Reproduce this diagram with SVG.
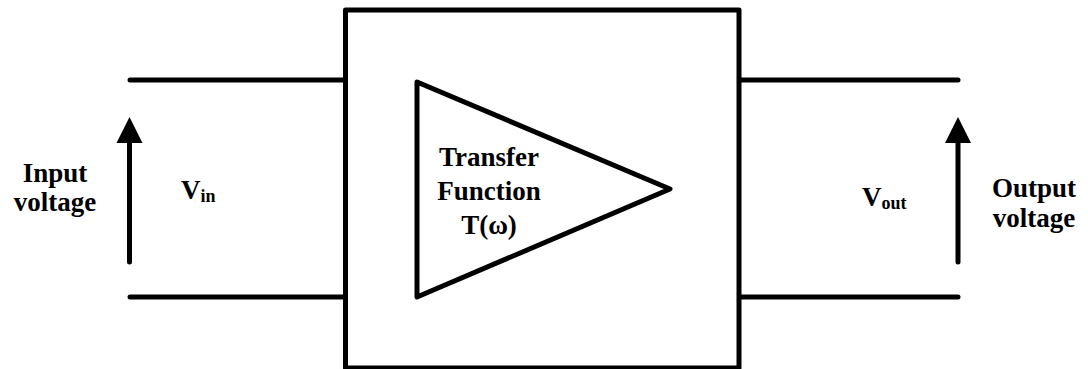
<svg xmlns="http://www.w3.org/2000/svg" width="1088" height="369" viewBox="0 0 1088 369">
<style>
.w{stroke:#000;stroke-width:5;fill:none;stroke-linecap:round;stroke-linejoin:round}
.a{stroke:#000;stroke-width:5;fill:none;stroke-linecap:round}
text{font-family:"Liberation Serif","Times New Roman",serif;font-weight:bold;fill:#000;font-size:27px}
.s{font-size:18px}
</style>
<g id="connectors">
<line class="w" x1="130" y1="80" x2="344" y2="80"/>
<line class="w" x1="130" y1="297" x2="344" y2="297"/>
<line class="w" x1="740" y1="80" x2="958" y2="80"/>
<line class="w" x1="740" y1="297" x2="958" y2="297"/>
<path class="a" d="M129.5,262 V135"/>
<path d="M129.5,117 L142.5,143 L116.5,143 Z" fill="#000"/>
<path class="a" d="M958,262 V135"/>
<path d="M958,117 L971,143 L945,143 Z" fill="#000"/>
</g>
<g id="box">
<rect class="w" x="345.5" y="10" width="393.5" height="358"/>
</g>
<g id="amplifier">
<path class="w" d="M417,82 L670,189 L417,297 Z"/>
<text x="489" y="166" text-anchor="middle">Transfer</text>
<text x="489" y="200" text-anchor="middle">Function</text>
<text x="489" y="234" text-anchor="middle">T(ω)</text>
</g>
<g id="input-label">
<text x="55" y="182" text-anchor="middle">Input</text>
<text x="55" y="211" text-anchor="middle">voltage</text>
</g>
<g id="vin">
<text x="181" y="199">V<tspan class="s" dy="3">in</tspan></text>
</g>
<g id="vout">
<text x="862" y="206">V<tspan class="s" dy="3">out</tspan></text>
</g>
<g id="output-label">
<text x="1034" y="197" text-anchor="middle">Output</text>
<text x="1034" y="227" text-anchor="middle">voltage</text>
</g>
</svg>
